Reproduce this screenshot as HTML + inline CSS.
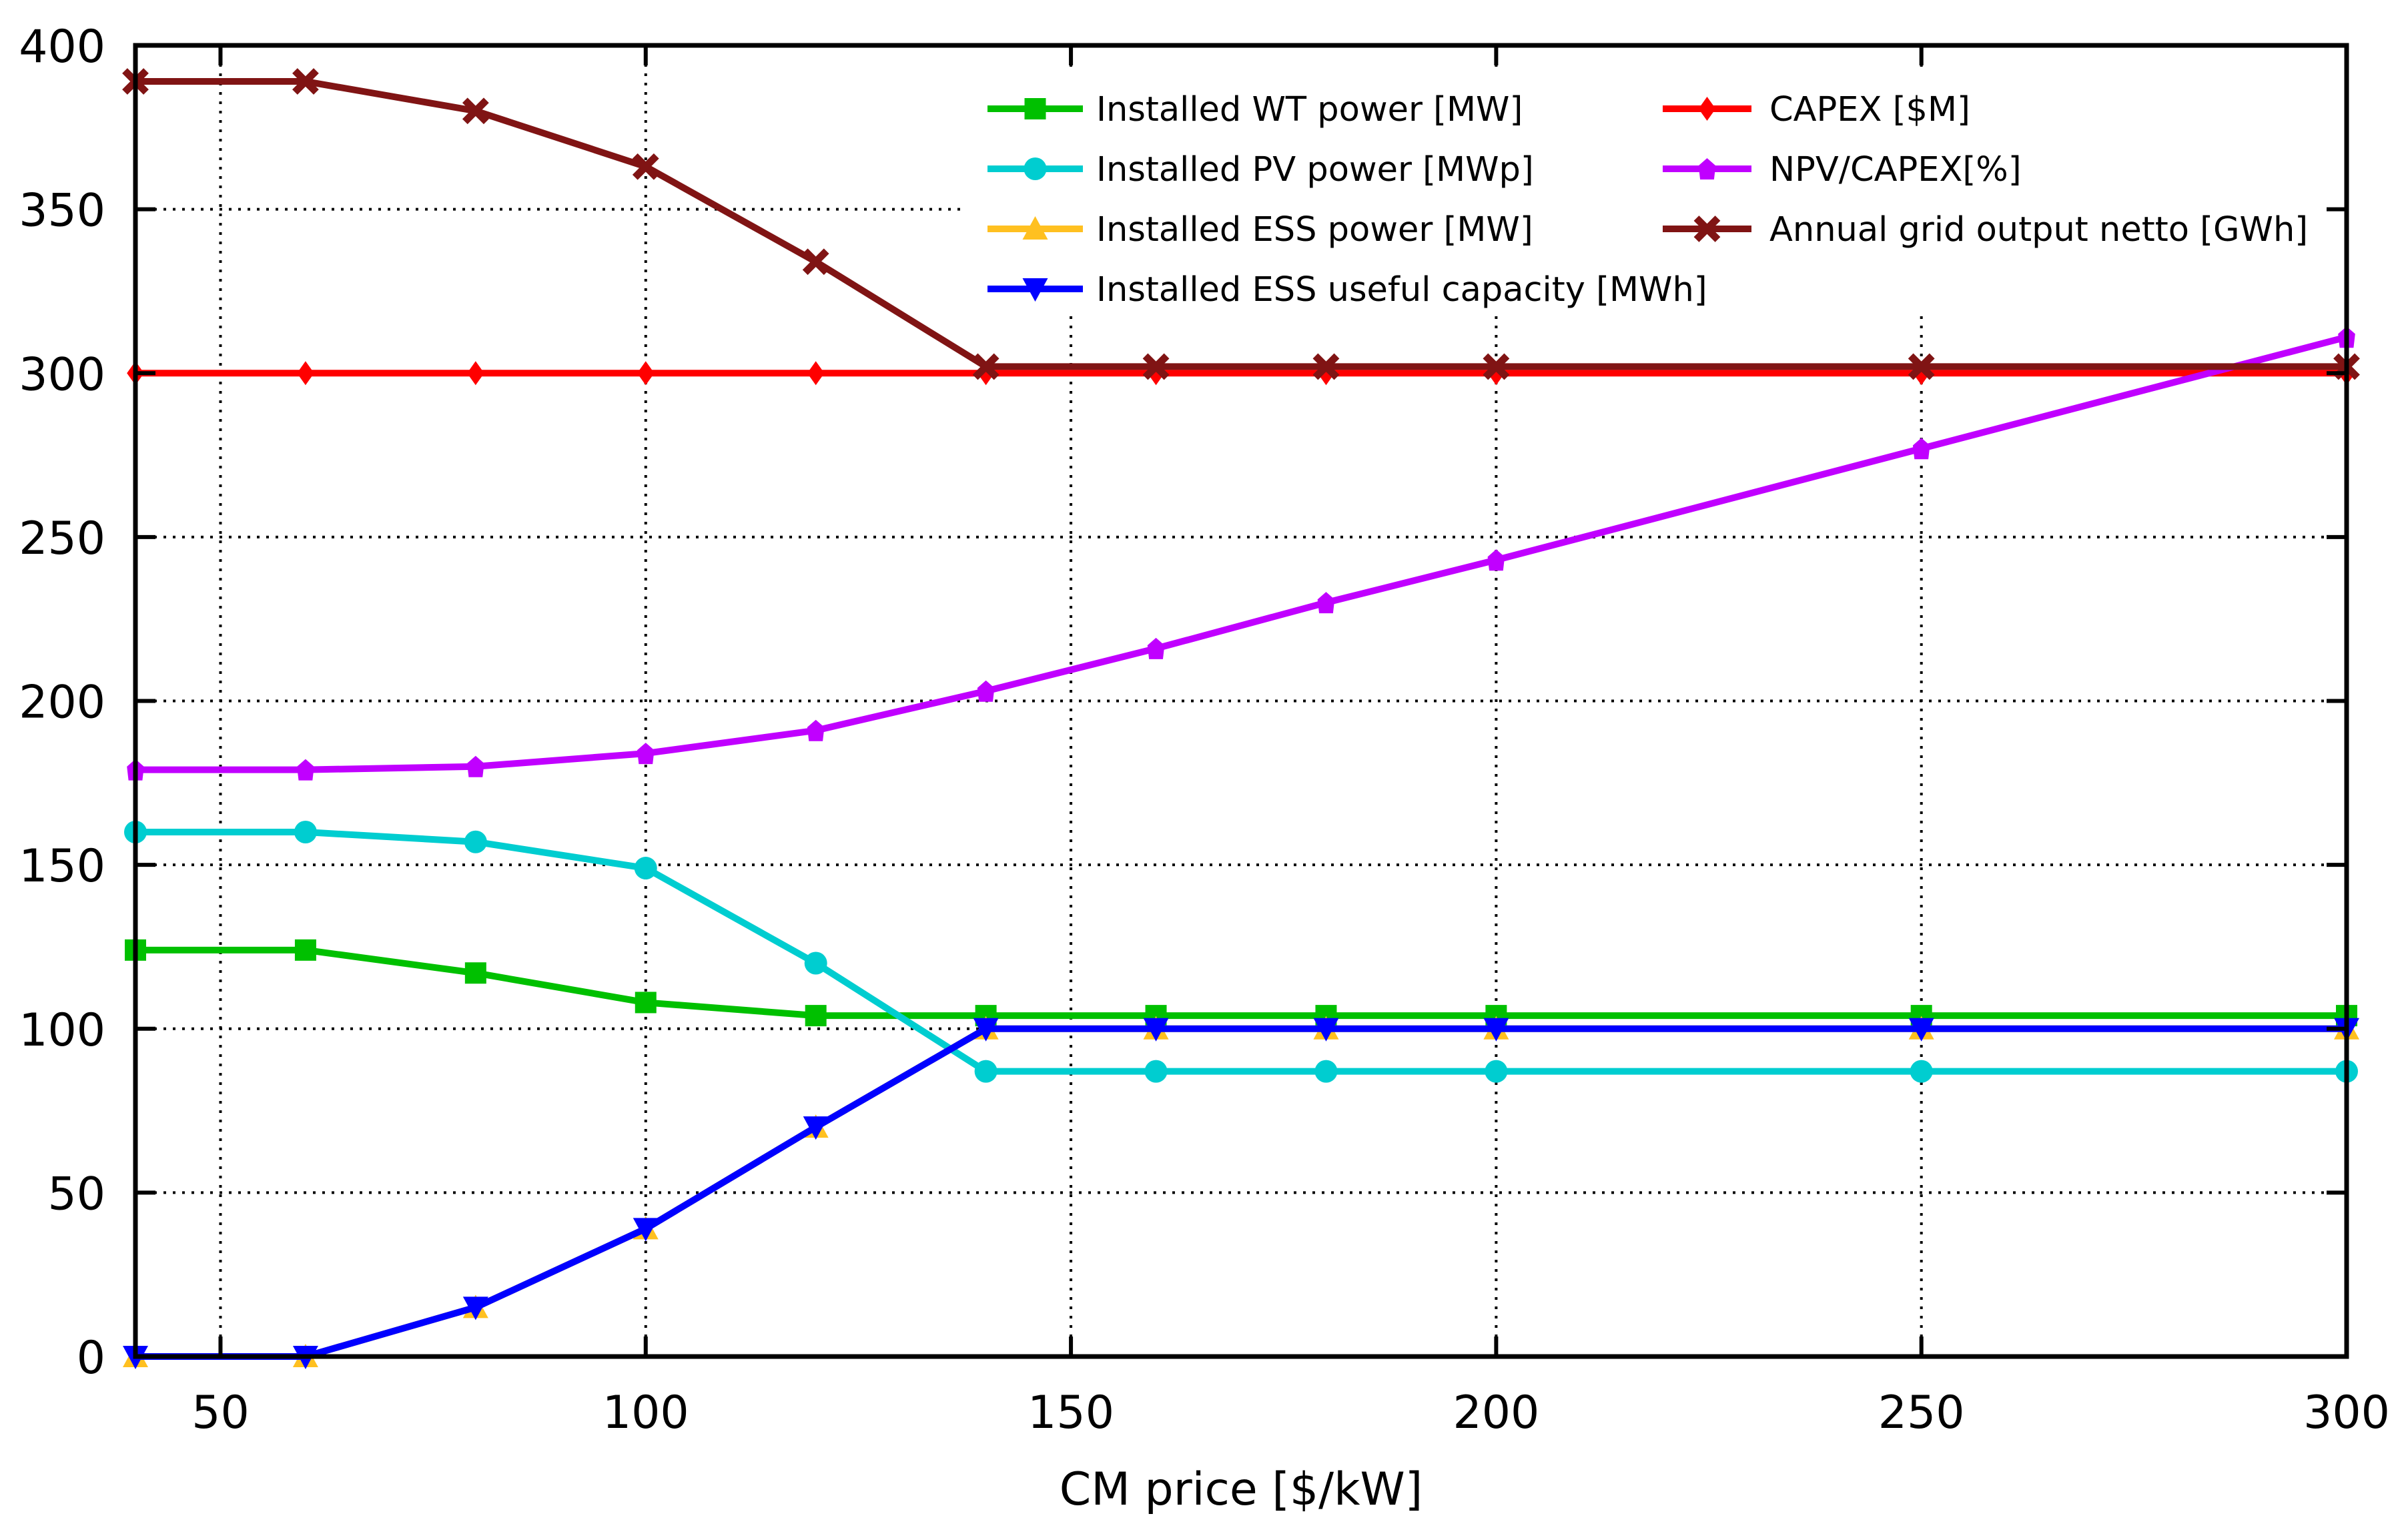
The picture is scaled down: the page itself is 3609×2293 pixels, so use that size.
<!DOCTYPE html>
<html><head><meta charset="utf-8"><style>
html,body{margin:0;padding:0;background:#fff;}
svg{display:block;font-family:"DejaVu Sans","Liberation Sans",sans-serif;}
</style></head><body>
<svg id="chart" width="3609" height="2293" viewBox="0 0 3609 2293" xmlns="http://www.w3.org/2000/svg">
<g id="grid"></g>
<rect x="1439" y="104" width="2050" height="368" fill="#fff"/>
<g id="series"></g>
<g id="axes"></g>
<g id="legend"></g>
<text x="1860" y="2255" font-size="68" text-anchor="middle">CM price [$/kW]</text>
</svg>
<script>
const xValues = [40,60,80,100,120,140,160,180,200,250,300];
const wtPower = [124,124,117,108,104,104,104,104,104,104,104];
const pvPower = [160,160,157,149,120,87,87,87,87,87,87];
const essPower = [0,0,15,39,70,100,100,100,100,100,100];
const essCapacity = [0,0,15,39,70,100,100,100,100,100,100];
const capex = [300,300,300,300,300,300,300,300,300,300,300];
const npvCapex = [179,179,180,184,191,203,216,230,243,277,311];
const gridOutput = [389,389,380,363,334,302,302,302,302,302,302];
const xTicks = [50,100,150,200,250,300];
const yTicks = [0,50,100,150,200,250,300,350,400];
const seriesNames = ["Installed WT power [MW]","Installed PV power [MWp]","Installed ESS power [MW]","Installed ESS useful capacity [MWh]","CAPEX [$M]","NPV/CAPEX[%]","Annual grid output netto [GWh]"];

const L=203,R=3517,T=68,B=2033,XMIN=40,XMAX=300,YMIN=0,YMAX=400;
const sx=v=>L+(v-XMIN)/(XMAX-XMIN)*(R-L);
const sy=v=>B-(v-YMIN)/(YMAX-YMIN)*(B-T);
const NS="http://www.w3.org/2000/svg";
function mk(tag,attrs,parent){const e=document.createElementNS(NS,tag);for(const k in attrs)e.setAttribute(k,attrs[k]);parent.appendChild(e);return e;}
const grid=document.getElementById('grid'),axes=document.getElementById('axes'),ser=document.getElementById('series'),leg=document.getElementById('legend');

xTicks.forEach(v=>{
  if(v<XMAX){const g=mk('line',{x1:sx(v),x2:sx(v),y1:T,y2:B,stroke:'#000','stroke-width':4,'stroke-dasharray':'4 10'},grid);
  
  }
  const t1=mk('line',{x1:sx(v),x2:sx(v),y1:B,y2:B-30,stroke:'#000','stroke-width':6},axes);
  
  
  const t2=mk('line',{x1:sx(v),x2:sx(v),y1:T,y2:T+30,stroke:'#000','stroke-width':6},axes);
  
  
  const lb=mk('text',{x:sx(v),y:2140,'font-size':68,'text-anchor':'middle'},axes);
  lb.textContent=v;
  
  
});
yTicks.forEach(v=>{
  if(v>YMIN&&v<YMAX){const g=mk('line',{x1:L,x2:R,y1:sy(v),y2:sy(v),stroke:'#000','stroke-width':4,'stroke-dasharray':'4 10'},grid);
  
  }
  const t1=mk('line',{x1:L,x2:L+30,y1:sy(v),y2:sy(v),stroke:'#000','stroke-width':6},axes);
  
  
  const t2=mk('line',{x1:R,x2:R-30,y1:sy(v),y2:sy(v),stroke:'#000','stroke-width':6},axes);
  
  
  const lb=mk('text',{x:158,y:sy(v)+25,'font-size':68,'text-anchor':'end'},axes);
  lb.textContent=v;
  
  
});
const frame=mk('rect',{x:L,y:T,width:R-L,height:B-T,fill:'none',stroke:'#000','stroke-width':7},axes);



function marker(type,x,y,color,parent){
  const s=16;let e;
  if(type==='square')e=mk('rect',{x:x-s,y:y-s,width:2*s,height:2*s,fill:color},parent);
  else if(type==='circle')e=mk('circle',{cx:x,cy:y,r:s+1,fill:color},parent);
  else if(type==='up')e=mk('polygon',{points:`${x},${y-s-3} ${x-s-3},${y+s} ${x+s+3},${y+s}`,fill:color},parent);
  else if(type==='down')e=mk('polygon',{points:`${x},${y+s+3} ${x-s-3},${y-s} ${x+s+3},${y-s}`,fill:color},parent);
  else if(type==='diamond')e=mk('polygon',{points:`${x},${y-s-2} ${x+s*0.8},${y} ${x},${y+s+2} ${x-s*0.8},${y}`,fill:color},parent);
  else if(type==='pent')e=mk('polygon',{points:`${x},${y-s} ${x+s*0.8},${y-s*0.3} ${x+s*0.65},${y+s} ${x-s*0.65},${y+s} ${x-s*0.8},${y-s*0.3}`,fill:color},parent);
  else {e=mk('path',{d:`M${x-s} ${y-s}L${x+s} ${y+s}M${x+s} ${y-s}L${x-s} ${y+s}`,stroke:color,'stroke-width':11},parent);}
  
  
}
const defs=[
 {data:wtPower,color:'#00c000',m:'square',key:'wt'},
 {data:pvPower,color:'#00cdd0',m:'circle',key:'pv'},
 {data:essPower,color:'#ffc020',m:'up',key:'ess-power'},
 {data:essCapacity,color:'#0000ff',m:'down',key:'ess-capacity'},
 {data:capex,color:'#ff0000',m:'diamond',key:'capex'},
 {data:npvCapex,color:'#c000ff',m:'pent',key:'npv-capex'},
 {data:gridOutput,color:'#801414',m:'x',key:'grid-output'}
];
defs.forEach((d,i)=>{
  const g=mk('g',{},ser);
  
  
  const pts=xValues.map((x,j)=>sx(x)+','+sy(d.data[j])).join(' ');
  const pl=mk('polyline',{points:pts,fill:'none',stroke:d.color,'stroke-width':10,'stroke-linejoin':'round'},g);
  
  
  xValues.forEach((x,j)=>marker(d.m,sx(x),sy(d.data[j]),d.color,g));
  const col=i<4?0:1,row=i<4?i:i-4;
  const lx1=col?2492:1480,lx2=col?2625:1623,tx=col?2652:1643,ly=163+row*90;
  const lg=mk('g',{},leg);
  
  
  const ll=mk('line',{x1:lx1,x2:lx2,y1:ly,y2:ly,stroke:d.color,'stroke-width':10},lg);
  
  
  marker(d.m,(lx1+lx2)/2,ly,d.color,lg);
  const t=mk('text',{x:tx,y:ly+18,'font-size':51},lg);
  t.textContent=seriesNames[i];
  
  
});
</script>
</body></html>
